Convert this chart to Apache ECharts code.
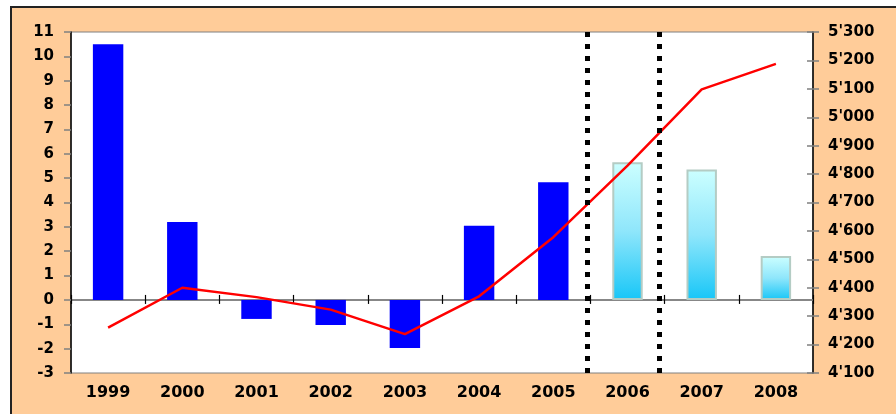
<!DOCTYPE html>
<html>
<head>
<meta charset="utf-8">
<script src="https://cdn.jsdelivr.net/npm/echarts@6/dist/echarts.min.js"></script>
<style>
  html, body { margin: 0; padding: 0; background: #ffffff; overflow: hidden; }
  .frame {
    position: absolute; left: 10px; top: 6px; width: 1000px; height: 500px;
    background: #ffcc99; border: 2px solid #222222;
  }
  #chart { position: absolute; left: 0; top: 0; width: 896px; height: 414px; }
</style>
</head>
<body>
<div class="frame"></div>
<div id="chart"></div>
<script>
const years = ['1999', '2000', '2001', '2002', '2003', '2004', '2005', '2006', '2007', '2008']
const barValues = [10.5, 3.2, -0.78, -1.03, -1.97, 3.05, 4.83, 5.65, 5.35, 1.8]
const lineValues = [4260, 4400, 4367, 4323, 4237, 4370, 4578, 4830, 5098, 5188]
const forecastYears = ['2006', '2007', '2008']
const dividerPositions = [6.96, 7.93]

const chart = echarts.init(document.getElementById('chart'))

const labelFont = 'DejaVu Sans'
const thousands = (v) => String(v).replace(/\B(?=(\d{3})+(?!\d))/g, "'")

const forecastFill = new echarts.graphic.LinearGradient(0, 0, 0, 1, [
  { offset: 0, color: '#ccffff' },
  { offset: 0.5, color: '#8fe6fb' },
  { offset: 1, color: '#17c6f7' }
])

const barData = barValues.map((v, i) => {
  if (forecastYears.includes(years[i])) {
    return { value: v, itemStyle: { color: forecastFill, borderColor: '#b4ccc4', borderWidth: 2 } }
  }
  return { value: v, itemStyle: { color: '#0000ff' } }
})

const catAxis = (extra) => Object.assign({
  type: 'category',
  data: years,
  position: 'bottom',
  axisLabel: { show: false },
  splitLine: { show: false }
}, extra)

const option = {
  animation: false,
  grid: {
    left: 71, right: 83, top: 32, bottom: 41,
    show: true, backgroundColor: '#ffffff', borderColor: '#808080', borderWidth: 1
  },
  xAxis: [
    catAxis({
      axisLine: { show: false },
      axisTick: { show: false },
      axisLabel: { show: true, color: '#000000', fontFamily: labelFont, fontWeight: 'bold', fontSize: 16, margin: 12 }
    }),
    catAxis({
      axisLine: { show: true, onZero: true, onZeroAxisIndex: 0, lineStyle: { color: '#808080', width: 1.5 } },
      axisTick: { show: true, inside: true, length: 5, lineStyle: { color: '#000000', width: 1.2 } }
    }),
    catAxis({
      axisLine: { show: true, onZero: true, onZeroAxisIndex: 0, lineStyle: { color: '#808080', width: 1.5 } },
      axisTick: { show: true, inside: false, length: 4, lineStyle: { color: '#000000', width: 1.2 } }
    }),
    { type: 'value', min: 0, max: 10, show: false }
  ],
  yAxis: [
    {
      type: 'value', position: 'left', min: -3, max: 11, interval: 1,
      axisLine: { show: true, lineStyle: { color: '#000000', width: 1.5 } },
      axisTick: { show: true, length: 7, lineStyle: { color: '#808080', width: 1.5 } },
      axisLabel: { color: '#000000', fontFamily: labelFont, fontWeight: 'bold', fontSize: 15, margin: 17 },
      splitLine: { show: false }
    },
    {
      type: 'value', position: 'right', min: 4100, max: 5300, interval: 100,
      axisLine: { show: true, lineStyle: { color: '#000000', width: 1.5 } },
      axisTick: { show: true, length: 6, lineStyle: { color: '#808080', width: 1.5 } },
      axisLabel: { color: '#000000', fontFamily: labelFont, fontWeight: 'bold', fontSize: 15, margin: 15, formatter: thousands },
      splitLine: { show: false }
    },
    {
      type: 'value', position: 'right', min: 4100, max: 5300, interval: 100,
      axisLine: { show: false },
      axisTick: { show: true, inside: true, length: 6, lineStyle: { color: '#808080', width: 1.5 } },
      axisLabel: { show: false },
      splitLine: { show: false }
    }
  ],
  series: [
    {
      type: 'bar',
      xAxisIndex: 0, yAxisIndex: 0,
      data: barData,
      barWidth: '41%'
    },
    {
      type: 'line',
      xAxisIndex: 0, yAxisIndex: 1,
      data: lineValues,
      symbol: 'none',
      lineStyle: { color: '#ff0000', width: 2.5 },
      z: 4
    },
    {
      type: 'line',
      xAxisIndex: 3, yAxisIndex: 0,
      data: [],
      markLine: {
        silent: true,
        symbol: 'none',
        label: { show: false },
        lineStyle: { color: '#000000', width: 5, type: [5, 7], cap: 'butt' },
        data: dividerPositions.map((x) => ({ xAxis: x }))
      },
      z: 5
    }
  ]
}

chart.setOption(option)
</script>
</body>
</html>
